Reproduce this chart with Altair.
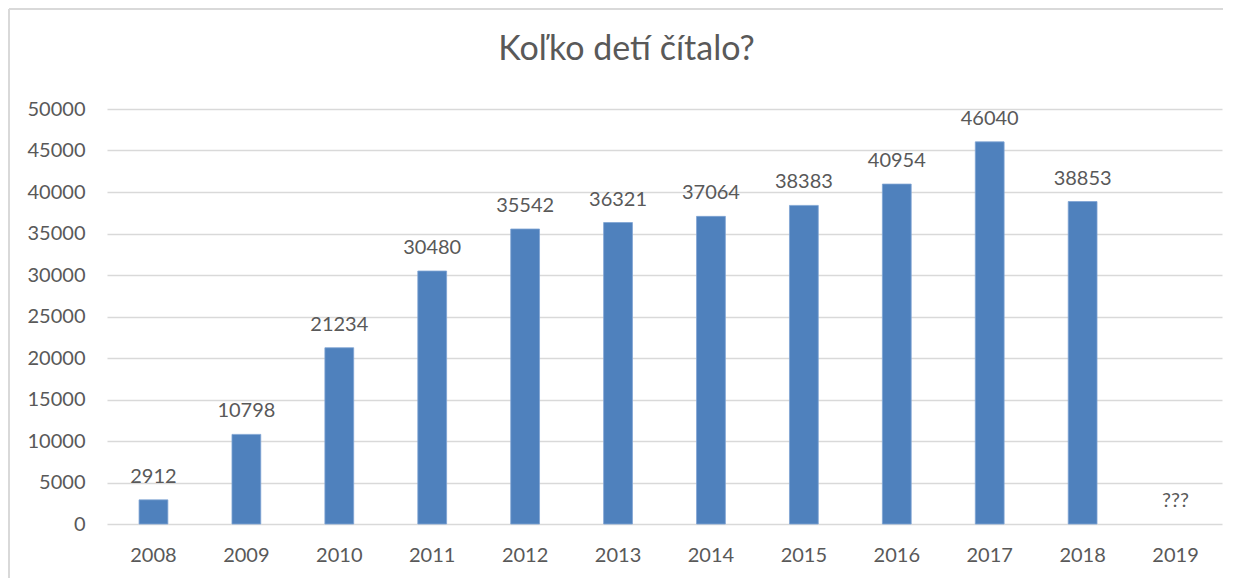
import altair as alt
import pandas as pd

years = ["2008", "2009", "2010", "2011", "2012", "2013", "2014", "2015", "2016", "2017", "2018", "2019"]
values = [2912, 10798, 21234, 30480, 35542, 36321, 37064, 38383, 40954, 46040, 38853, None]
labels = ["2912", "10798", "21234", "30480", "35542", "36321", "37064", "38383", "40954", "46040", "38853", "???"]

df = pd.DataFrame({
    "rok": years,
    "pocet": values,
    "label": labels,
    "labely": [v if v is not None else 0 for v in values],
})

FONT = "Lato"
GREY = "#595959"
W, H = 1115, 415

xenc = alt.X("rok:N", sort=years,
             scale=alt.Scale(paddingInner=0.69, paddingOuter=0.345),
             axis=alt.Axis(title=None, labelAngle=0, labelPadding=21, ticks=False,
                           domain=False, grid=False))

bars = alt.Chart(df).mark_bar(color="#4F81BD", stroke="#7FA3D3", strokeWidth=0.8).encode(
    x=xenc,
    y=alt.Y("pocet:Q", scale=alt.Scale(domain=[0, 50000]),
            axis=alt.Axis(title=None, values=list(range(0, 50001, 5000)), ticks=False,
                          format="d", domain=False, labelPadding=22,
                          gridColor="#d9d9d9", gridWidth=1.5)),
)

text = alt.Chart(df).mark_text(baseline="alphabetic", dy=-17, font=FONT, fontSize=20,
                               color=GREY).encode(
    x=alt.X("rok:N", sort=years),
    y=alt.Y("labely:Q"),
    text="label:N",
)

one = pd.DataFrame({"a": [0]})
border_top = alt.Chart(one).mark_rule(color="#d9d9d9", strokeWidth=2).encode(
    x=alt.value(-98), x2=alt.value(1116), y=alt.value(-100))
border_left = alt.Chart(one).mark_rule(color="#d9d9d9", strokeWidth=2).encode(
    x=alt.value(-98), y=alt.value(-100), y2=alt.value(470))

chart = alt.layer(border_top, border_left, bars, text).properties(
    width=W, height=H,
    title=alt.TitleParams("Koľko detí čítalo?", font=FONT, fontSize=34, fontWeight="normal",
                          color=GREY, anchor="middle", frame="group", dx=-38, offset=-86,
                          baseline="alphabetic"),
    padding={"left": 99, "top": 101, "right": 9, "bottom": 54},
    autosize=alt.AutoSizeParams(type="none"),
).configure_view(stroke=None).configure_axis(
    labelFont=FONT, labelFontSize=20, labelColor=GREY
)

chart.save("out.html", embed_options={"renderer": "svg", "actions": False})
